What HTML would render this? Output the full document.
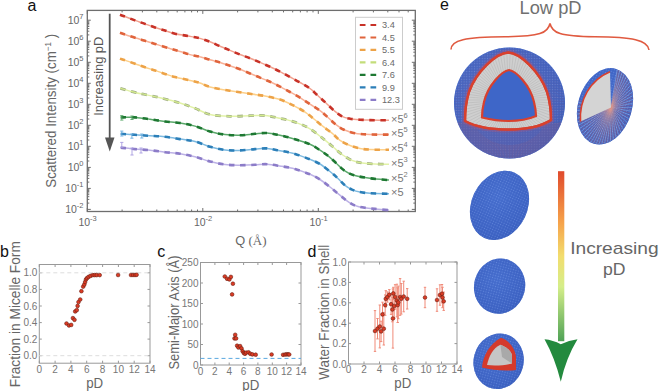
<!DOCTYPE html>
<html><head><meta charset="utf-8"><style>
html,body{margin:0;padding:0;background:#fff;width:660px;height:391px;overflow:hidden}
svg{display:block;font-family:"Liberation Sans", sans-serif}
</style></head><body>
<svg width="660" height="391" viewBox="0 0 660 391">
<rect width="660" height="391" fill="#fff"/>
<rect x="87.3" y="10.4" width="328.0" height="201.1" fill="none" stroke="#6e6e6e" stroke-width="1.3"/>
<path d="M87.3,209.4h3.5M415.3,209.4h-3.5M87.3,203.1h2M415.3,203.1h-2M87.3,199.4h2M415.3,199.4h-2M87.3,196.7h2M415.3,196.7h-2M87.3,194.7h2M415.3,194.7h-2M87.3,193.0h2M415.3,193.0h-2M87.3,191.6h2M415.3,191.6h-2M87.3,190.4h2M415.3,190.4h-2M87.3,189.3h2M415.3,189.3h-2M87.3,188.4h3.5M415.3,188.4h-3.5M87.3,182.1h2M415.3,182.1h-2M87.3,178.4h2M415.3,178.4h-2M87.3,175.7h2M415.3,175.7h-2M87.3,173.7h2M415.3,173.7h-2M87.3,172.0h2M415.3,172.0h-2M87.3,170.6h2M415.3,170.6h-2M87.3,169.4h2M415.3,169.4h-2M87.3,168.3h2M415.3,168.3h-2M87.3,167.4h3.5M415.3,167.4h-3.5M87.3,161.0h2M415.3,161.0h-2M87.3,157.3h2M415.3,157.3h-2M87.3,154.7h2M415.3,154.7h-2M87.3,152.7h2M415.3,152.7h-2M87.3,151.0h2M415.3,151.0h-2M87.3,149.6h2M415.3,149.6h-2M87.3,148.4h2M415.3,148.4h-2M87.3,147.3h2M415.3,147.3h-2M87.3,146.3h3.5M415.3,146.3h-3.5M87.3,140.0h2M415.3,140.0h-2M87.3,136.3h2M415.3,136.3h-2M87.3,133.7h2M415.3,133.7h-2M87.3,131.6h2M415.3,131.6h-2M87.3,130.0h2M415.3,130.0h-2M87.3,128.6h2M415.3,128.6h-2M87.3,127.4h2M415.3,127.4h-2M87.3,126.3h2M415.3,126.3h-2M87.3,125.3h3.5M415.3,125.3h-3.5M87.3,119.0h2M415.3,119.0h-2M87.3,115.3h2M415.3,115.3h-2M87.3,112.7h2M415.3,112.7h-2M87.3,110.6h2M415.3,110.6h-2M87.3,109.0h2M415.3,109.0h-2M87.3,107.6h2M415.3,107.6h-2M87.3,106.3h2M415.3,106.3h-2M87.3,105.3h2M415.3,105.3h-2M87.3,104.3h3.5M415.3,104.3h-3.5M87.3,98.0h2M415.3,98.0h-2M87.3,94.3h2M415.3,94.3h-2M87.3,91.6h2M415.3,91.6h-2M87.3,89.6h2M415.3,89.6h-2M87.3,87.9h2M415.3,87.9h-2M87.3,86.5h2M415.3,86.5h-2M87.3,85.3h2M415.3,85.3h-2M87.3,84.2h2M415.3,84.2h-2M87.3,83.3h3.5M415.3,83.3h-3.5M87.3,77.0h2M415.3,77.0h-2M87.3,73.3h2M415.3,73.3h-2M87.3,70.6h2M415.3,70.6h-2M87.3,68.6h2M415.3,68.6h-2M87.3,66.9h2M415.3,66.9h-2M87.3,65.5h2M415.3,65.5h-2M87.3,64.3h2M415.3,64.3h-2M87.3,63.2h2M415.3,63.2h-2M87.3,62.3h3.5M415.3,62.3h-3.5M87.3,55.9h2M415.3,55.9h-2M87.3,52.2h2M415.3,52.2h-2M87.3,49.6h2M415.3,49.6h-2M87.3,47.6h2M415.3,47.6h-2M87.3,45.9h2M415.3,45.9h-2M87.3,44.5h2M415.3,44.5h-2M87.3,43.3h2M415.3,43.3h-2M87.3,42.2h2M415.3,42.2h-2M87.3,41.2h3.5M415.3,41.2h-3.5M87.3,34.9h2M415.3,34.9h-2M87.3,31.2h2M415.3,31.2h-2M87.3,28.6h2M415.3,28.6h-2M87.3,26.5h2M415.3,26.5h-2M87.3,24.9h2M415.3,24.9h-2M87.3,23.5h2M415.3,23.5h-2M87.3,22.3h2M415.3,22.3h-2M87.3,21.2h2M415.3,21.2h-2M87.3,20.2h3.5M415.3,20.2h-3.5M87.3,211.5v-3.5M87.3,10.4v3.5M122.1,211.5v-2M122.1,10.4v2M142.4,211.5v-2M142.4,10.4v2M156.8,211.5v-2M156.8,10.4v2M168.0,211.5v-2M168.0,10.4v2M177.2,211.5v-2M177.2,10.4v2M184.9,211.5v-2M184.9,10.4v2M191.6,211.5v-2M191.6,10.4v2M197.5,211.5v-2M197.5,10.4v2M202.8,211.5v-3.5M202.8,10.4v3.5M237.6,211.5v-2M237.6,10.4v2M257.9,211.5v-2M257.9,10.4v2M272.3,211.5v-2M272.3,10.4v2M283.5,211.5v-2M283.5,10.4v2M292.7,211.5v-2M292.7,10.4v2M300.4,211.5v-2M300.4,10.4v2M307.1,211.5v-2M307.1,10.4v2M313.0,211.5v-2M313.0,10.4v2M318.3,211.5v-3.5M318.3,10.4v3.5M353.1,211.5v-2M353.1,10.4v2M373.4,211.5v-2M373.4,10.4v2M387.8,211.5v-2M387.8,10.4v2M399.0,211.5v-2M399.0,10.4v2M408.2,211.5v-2M408.2,10.4v2" stroke="#6e6e6e" stroke-width="1" fill="none"/>
<text x="83.5" y="213.1" font-size="10.5" fill="#666" text-anchor="end">10<tspan dy="-5.3" font-size="7.5">-2</tspan></text>
<text x="83.5" y="192.1" font-size="10.5" fill="#666" text-anchor="end">10<tspan dy="-5.3" font-size="7.5">-1</tspan></text>
<text x="83.5" y="171.1" font-size="10.5" fill="#666" text-anchor="end">10<tspan dy="-5.3" font-size="7.5">0</tspan></text>
<text x="83.5" y="150.0" font-size="10.5" fill="#666" text-anchor="end">10<tspan dy="-5.3" font-size="7.5">1</tspan></text>
<text x="83.5" y="129.0" font-size="10.5" fill="#666" text-anchor="end">10<tspan dy="-5.3" font-size="7.5">2</tspan></text>
<text x="83.5" y="108.0" font-size="10.5" fill="#666" text-anchor="end">10<tspan dy="-5.3" font-size="7.5">3</tspan></text>
<text x="83.5" y="87.0" font-size="10.5" fill="#666" text-anchor="end">10<tspan dy="-5.3" font-size="7.5">4</tspan></text>
<text x="83.5" y="66.0" font-size="10.5" fill="#666" text-anchor="end">10<tspan dy="-5.3" font-size="7.5">5</tspan></text>
<text x="83.5" y="44.9" font-size="10.5" fill="#666" text-anchor="end">10<tspan dy="-5.3" font-size="7.5">6</tspan></text>
<text x="83.5" y="23.9" font-size="10.5" fill="#666" text-anchor="end">10<tspan dy="-5.3" font-size="7.5">7</tspan></text>
<text x="87.6" y="225.8" font-size="10.5" fill="#666" text-anchor="middle">10<tspan dy="-5.3" font-size="7.5">-3</tspan></text>
<text x="203.1" y="225.8" font-size="10.5" fill="#666" text-anchor="middle">10<tspan dy="-5.3" font-size="7.5">-2</tspan></text>
<text x="318.6" y="225.8" font-size="10.5" fill="#666" text-anchor="middle">10<tspan dy="-5.3" font-size="7.5">-1</tspan></text>
<text transform="translate(55.8,110.8) rotate(-90)" font-size="15" fill="#666" text-anchor="middle" textLength="154" lengthAdjust="spacingAndGlyphs">Scattered Intensity (cm<tspan dy="-5" font-size="9">−1</tspan><tspan dy="5"> )</tspan></text>
<text x="235.3" y="245.3" font-family="Liberation Serif, serif" font-size="13" fill="#666"><tspan font-family="Liberation Sans, sans-serif" font-size="12.8">Q</tspan> (Å)</text>
<text transform="translate(103.3,76.3) rotate(-90)" font-size="12.3" fill="#555" text-anchor="middle" textLength="79" lengthAdjust="spacingAndGlyphs">Increasing pD</text>
<line x1="109.7" y1="13.7" x2="109.7" y2="140" stroke="#555" stroke-width="1.8"/>
<path d="M105,137.5 L114.5,137.5 L109.75,151.5 Z" fill="#555"/>
<path d="M120.0,14.7 C122.5,15.6 130.8,18.9 135.0,20.4 C139.2,21.9 141.7,22.7 145.0,23.9 C148.3,25.1 151.7,26.4 155.0,27.5 C158.3,28.6 161.7,29.6 165.0,30.6 C168.3,31.6 171.2,32.8 175.0,33.7 C178.8,34.6 183.8,35.2 188.0,36.0 C192.2,36.8 196.3,37.4 200.0,38.4 C203.7,39.4 206.7,40.5 210.0,41.8 C213.3,43.1 216.7,44.8 220.0,46.2 C223.3,47.6 226.7,49.0 230.0,50.4 C233.3,51.8 236.7,53.2 240.0,54.5 C243.3,55.8 246.7,57.0 250.0,58.3 C253.3,59.6 256.7,61.0 260.0,62.4 C263.3,63.8 266.7,65.3 270.0,66.8 C273.3,68.3 276.7,69.9 280.0,71.6 C283.3,73.3 286.7,75.2 290.0,77.0 C293.3,78.8 296.7,80.6 300.0,82.5 C303.3,84.4 307.0,86.3 310.0,88.5 C313.0,90.7 315.3,93.4 318.0,95.8 C320.7,98.2 323.3,100.5 326.0,103.0 C328.7,105.5 331.3,108.3 334.0,110.5 C336.7,112.7 339.3,114.9 342.0,116.3 C344.7,117.7 347.0,118.1 350.0,118.7 C353.0,119.3 356.7,119.5 360.0,119.7 C363.3,119.9 365.2,120.0 370.0,120.1 C374.8,120.2 385.8,120.3 389.0,120.3" fill="none" stroke="#f2a08e" stroke-width="1.5"/>
<path d="M120.0,14.7 C122.5,15.6 130.8,18.9 135.0,20.4 C139.2,21.9 141.7,22.7 145.0,23.9 C148.3,25.1 151.7,26.4 155.0,27.5 C158.3,28.6 161.7,29.6 165.0,30.6 C168.3,31.6 171.2,32.8 175.0,33.7 C178.8,34.6 183.8,35.2 188.0,36.0 C192.2,36.8 196.3,37.4 200.0,38.4 C203.7,39.4 206.7,40.5 210.0,41.8 C213.3,43.1 216.7,44.8 220.0,46.2 C223.3,47.6 226.7,49.0 230.0,50.4 C233.3,51.8 236.7,53.2 240.0,54.5 C243.3,55.8 246.7,57.0 250.0,58.3 C253.3,59.6 256.7,61.0 260.0,62.4 C263.3,63.8 266.7,65.3 270.0,66.8 C273.3,68.3 276.7,69.9 280.0,71.6 C283.3,73.3 286.7,75.2 290.0,77.0 C293.3,78.8 296.7,80.6 300.0,82.5 C303.3,84.4 307.0,86.3 310.0,88.5 C313.0,90.7 315.3,93.4 318.0,95.8 C320.7,98.2 323.3,100.5 326.0,103.0 C328.7,105.5 331.3,108.3 334.0,110.5 C336.7,112.7 339.3,114.9 342.0,116.3 C344.7,117.7 347.0,118.1 350.0,118.7 C353.0,119.3 356.7,119.5 360.0,119.7 C363.3,119.9 365.2,120.0 370.0,120.1 C374.8,120.2 385.8,120.3 389.0,120.3" fill="none" stroke="#c83228" stroke-width="2.6" stroke-dasharray="5.4 5.6"/>
<path d="M120.0,32.8 C122.5,33.6 130.8,36.5 135.0,37.8 C139.2,39.1 141.7,39.8 145.0,40.8 C148.3,41.8 151.0,42.6 155.0,43.9 C159.0,45.1 164.8,47.0 169.0,48.3 C173.2,49.6 176.5,50.5 180.0,51.5 C183.5,52.5 186.7,53.7 190.0,54.6 C193.3,55.5 196.7,55.9 200.0,56.8 C203.3,57.6 206.7,58.8 210.0,59.7 C213.3,60.7 216.7,61.5 220.0,62.5 C223.3,63.5 226.7,64.7 230.0,65.8 C233.3,66.9 236.7,68.0 240.0,69.3 C243.3,70.6 246.7,72.1 250.0,73.5 C253.3,74.9 256.7,76.2 260.0,77.6 C263.3,79.0 266.7,80.3 270.0,81.8 C273.3,83.3 276.7,84.9 280.0,86.6 C283.3,88.3 286.7,90.2 290.0,92.0 C293.3,93.8 296.7,95.6 300.0,97.6 C303.3,99.6 306.7,102.0 310.0,104.2 C313.3,106.4 317.0,108.4 320.0,110.6 C323.0,112.8 325.3,115.2 328.0,117.5 C330.7,119.8 333.3,122.7 336.0,124.7 C338.7,126.8 340.8,128.4 344.0,129.8 C347.2,131.2 350.7,132.5 355.0,133.3 C359.3,134.1 364.3,134.3 370.0,134.5 C375.7,134.7 385.8,134.6 389.0,134.6" fill="none" stroke="#f8b096" stroke-width="1.5"/>
<path d="M120.0,32.8 C122.5,33.6 130.8,36.5 135.0,37.8 C139.2,39.1 141.7,39.8 145.0,40.8 C148.3,41.8 151.0,42.6 155.0,43.9 C159.0,45.1 164.8,47.0 169.0,48.3 C173.2,49.6 176.5,50.5 180.0,51.5 C183.5,52.5 186.7,53.7 190.0,54.6 C193.3,55.5 196.7,55.9 200.0,56.8 C203.3,57.6 206.7,58.8 210.0,59.7 C213.3,60.7 216.7,61.5 220.0,62.5 C223.3,63.5 226.7,64.7 230.0,65.8 C233.3,66.9 236.7,68.0 240.0,69.3 C243.3,70.6 246.7,72.1 250.0,73.5 C253.3,74.9 256.7,76.2 260.0,77.6 C263.3,79.0 266.7,80.3 270.0,81.8 C273.3,83.3 276.7,84.9 280.0,86.6 C283.3,88.3 286.7,90.2 290.0,92.0 C293.3,93.8 296.7,95.6 300.0,97.6 C303.3,99.6 306.7,102.0 310.0,104.2 C313.3,106.4 317.0,108.4 320.0,110.6 C323.0,112.8 325.3,115.2 328.0,117.5 C330.7,119.8 333.3,122.7 336.0,124.7 C338.7,126.8 340.8,128.4 344.0,129.8 C347.2,131.2 350.7,132.5 355.0,133.3 C359.3,134.1 364.3,134.3 370.0,134.5 C375.7,134.7 385.8,134.6 389.0,134.6" fill="none" stroke="#e0643c" stroke-width="2.6" stroke-dasharray="5.4 5.6"/>
<path d="M120.0,58.6 C122.5,59.5 130.8,62.2 135.0,63.7 C139.2,65.2 141.7,66.2 145.0,67.3 C148.3,68.4 151.7,69.3 155.0,70.4 C158.3,71.5 161.7,72.8 165.0,73.9 C168.3,75.0 170.8,75.9 175.0,77.0 C179.2,78.1 185.8,79.5 190.0,80.5 C194.2,81.5 196.7,81.9 200.0,83.0 C203.3,84.1 205.0,85.6 210.0,86.9 C215.0,88.2 223.3,89.6 230.0,90.7 C236.7,91.8 244.2,92.9 250.0,93.8 C255.8,94.7 260.0,95.0 265.0,96.0 C270.0,97.0 275.8,98.2 280.0,99.5 C284.2,100.8 286.7,102.2 290.0,103.8 C293.3,105.4 297.2,107.4 300.0,109.0 C302.8,110.6 304.7,111.8 307.0,113.5 C309.3,115.2 311.5,117.0 314.0,119.0 C316.5,121.0 319.0,123.3 322.0,125.7 C325.0,128.1 329.0,130.8 332.0,133.2 C335.0,135.6 337.0,138.3 340.0,140.4 C343.0,142.5 346.7,144.2 350.0,145.5 C353.3,146.8 356.7,147.8 360.0,148.5 C363.3,149.2 365.2,149.4 370.0,149.6 C374.8,149.8 385.8,149.7 389.0,149.7" fill="none" stroke="#fdd08a" stroke-width="1.5"/>
<path d="M120.0,58.6 C122.5,59.5 130.8,62.2 135.0,63.7 C139.2,65.2 141.7,66.2 145.0,67.3 C148.3,68.4 151.7,69.3 155.0,70.4 C158.3,71.5 161.7,72.8 165.0,73.9 C168.3,75.0 170.8,75.9 175.0,77.0 C179.2,78.1 185.8,79.5 190.0,80.5 C194.2,81.5 196.7,81.9 200.0,83.0 C203.3,84.1 205.0,85.6 210.0,86.9 C215.0,88.2 223.3,89.6 230.0,90.7 C236.7,91.8 244.2,92.9 250.0,93.8 C255.8,94.7 260.0,95.0 265.0,96.0 C270.0,97.0 275.8,98.2 280.0,99.5 C284.2,100.8 286.7,102.2 290.0,103.8 C293.3,105.4 297.2,107.4 300.0,109.0 C302.8,110.6 304.7,111.8 307.0,113.5 C309.3,115.2 311.5,117.0 314.0,119.0 C316.5,121.0 319.0,123.3 322.0,125.7 C325.0,128.1 329.0,130.8 332.0,133.2 C335.0,135.6 337.0,138.3 340.0,140.4 C343.0,142.5 346.7,144.2 350.0,145.5 C353.3,146.8 356.7,147.8 360.0,148.5 C363.3,149.2 365.2,149.4 370.0,149.6 C374.8,149.8 385.8,149.7 389.0,149.7" fill="none" stroke="#eda348" stroke-width="2.6" stroke-dasharray="5.4 5.6"/>
<path d="M120.4,88.3 C122.8,89.0 130.9,91.4 135.0,92.4 C139.1,93.4 140.8,93.6 145.0,94.5 C149.2,95.4 154.2,96.4 160.0,97.8 C165.8,99.2 174.2,101.2 180.0,103.0 C185.8,104.8 190.0,106.4 195.0,108.3 C200.0,110.2 204.2,113.2 210.0,114.5 C215.8,115.8 223.3,116.1 230.0,116.3 C236.7,116.5 244.2,115.8 250.0,115.7 C255.8,115.6 260.0,115.2 265.0,115.6 C270.0,116.0 275.0,117.2 280.0,118.3 C285.0,119.4 290.0,120.3 295.0,122.1 C300.0,123.8 305.0,125.8 310.0,128.8 C315.0,131.8 321.0,137.0 325.0,140.2 C329.0,143.4 331.2,145.4 334.0,147.8 C336.8,150.2 339.0,152.4 342.0,154.5 C345.0,156.6 348.7,159.0 352.0,160.4 C355.3,161.8 358.2,162.3 362.0,162.9 C365.8,163.5 370.5,163.7 375.0,163.9 C379.5,164.1 386.7,164.2 389.0,164.3" fill="none" stroke="#e2f2a8" stroke-width="1.5"/>
<path d="M120.4,88.3 C122.8,89.0 130.9,91.4 135.0,92.4 C139.1,93.4 140.8,93.6 145.0,94.5 C149.2,95.4 154.2,96.4 160.0,97.8 C165.8,99.2 174.2,101.2 180.0,103.0 C185.8,104.8 190.0,106.4 195.0,108.3 C200.0,110.2 204.2,113.2 210.0,114.5 C215.8,115.8 223.3,116.1 230.0,116.3 C236.7,116.5 244.2,115.8 250.0,115.7 C255.8,115.6 260.0,115.2 265.0,115.6 C270.0,116.0 275.0,117.2 280.0,118.3 C285.0,119.4 290.0,120.3 295.0,122.1 C300.0,123.8 305.0,125.8 310.0,128.8 C315.0,131.8 321.0,137.0 325.0,140.2 C329.0,143.4 331.2,145.4 334.0,147.8 C336.8,150.2 339.0,152.4 342.0,154.5 C345.0,156.6 348.7,159.0 352.0,160.4 C355.3,161.8 358.2,162.3 362.0,162.9 C365.8,163.5 370.5,163.7 375.0,163.9 C379.5,164.1 386.7,164.2 389.0,164.3" fill="none" stroke="#a3b088" stroke-width="2.8" stroke-dasharray="5.4 5.6"/>
<path d="M120.4,88.3 C122.8,89.0 130.9,91.4 135.0,92.4 C139.1,93.4 140.8,93.6 145.0,94.5 C149.2,95.4 154.2,96.4 160.0,97.8 C165.8,99.2 174.2,101.2 180.0,103.0 C185.8,104.8 190.0,106.4 195.0,108.3 C200.0,110.2 204.2,113.2 210.0,114.5 C215.8,115.8 223.3,116.1 230.0,116.3 C236.7,116.5 244.2,115.8 250.0,115.7 C255.8,115.6 260.0,115.2 265.0,115.6 C270.0,116.0 275.0,117.2 280.0,118.3 C285.0,119.4 290.0,120.3 295.0,122.1 C300.0,123.8 305.0,125.8 310.0,128.8 C315.0,131.8 321.0,137.0 325.0,140.2 C329.0,143.4 331.2,145.4 334.0,147.8 C336.8,150.2 339.0,152.4 342.0,154.5 C345.0,156.6 348.7,159.0 352.0,160.4 C355.3,161.8 358.2,162.3 362.0,162.9 C365.8,163.5 370.5,163.7 375.0,163.9 C379.5,164.1 386.7,164.2 389.0,164.3" fill="none" stroke="#d4ec8c" stroke-width="1.2" stroke-dasharray="5.4 5.6"/>
<path d="M120.7,117.4 C123.1,117.4 130.1,117.1 135.0,117.4 C139.9,117.7 145.0,118.5 150.0,119.2 C155.0,119.9 160.0,120.9 165.0,121.5 C170.0,122.1 175.0,122.2 180.0,123.0 C185.0,123.8 190.0,124.7 195.0,126.1 C200.0,127.5 205.0,130.1 210.0,131.5 C215.0,132.9 220.0,134.0 225.0,134.6 C230.0,135.2 235.0,135.4 240.0,135.3 C245.0,135.2 250.5,134.2 255.0,133.8 C259.5,133.4 262.8,132.8 267.0,133.0 C271.2,133.2 275.3,134.3 280.0,135.3 C284.7,136.3 290.0,137.7 295.0,139.2 C300.0,140.7 305.8,142.5 310.0,144.3 C314.2,146.1 317.0,148.3 320.0,150.2 C323.0,152.1 325.3,153.7 328.0,155.8 C330.7,157.9 333.3,160.6 336.0,163.0 C338.7,165.4 341.0,168.2 344.0,170.3 C347.0,172.4 349.7,174.0 354.0,175.3 C358.3,176.6 364.2,177.5 370.0,178.3 C375.8,179.1 385.8,179.8 389.0,180.1" fill="none" stroke="#5aa86a" stroke-width="1.5"/>
<path d="M120.7,117.4 C123.1,117.4 130.1,117.1 135.0,117.4 C139.9,117.7 145.0,118.5 150.0,119.2 C155.0,119.9 160.0,120.9 165.0,121.5 C170.0,122.1 175.0,122.2 180.0,123.0 C185.0,123.8 190.0,124.7 195.0,126.1 C200.0,127.5 205.0,130.1 210.0,131.5 C215.0,132.9 220.0,134.0 225.0,134.6 C230.0,135.2 235.0,135.4 240.0,135.3 C245.0,135.2 250.5,134.2 255.0,133.8 C259.5,133.4 262.8,132.8 267.0,133.0 C271.2,133.2 275.3,134.3 280.0,135.3 C284.7,136.3 290.0,137.7 295.0,139.2 C300.0,140.7 305.8,142.5 310.0,144.3 C314.2,146.1 317.0,148.3 320.0,150.2 C323.0,152.1 325.3,153.7 328.0,155.8 C330.7,157.9 333.3,160.6 336.0,163.0 C338.7,165.4 341.0,168.2 344.0,170.3 C347.0,172.4 349.7,174.0 354.0,175.3 C358.3,176.6 364.2,177.5 370.0,178.3 C375.8,179.1 385.8,179.8 389.0,180.1" fill="none" stroke="#1e7832" stroke-width="2.6" stroke-dasharray="5.4 5.6"/>
<path d="M120.7,133.8 C123.1,134.0 130.1,134.5 135.0,134.8 C139.9,135.1 145.0,135.5 150.0,135.8 C155.0,136.1 160.0,136.2 165.0,136.8 C170.0,137.4 175.0,138.3 180.0,139.1 C185.0,139.9 190.0,140.1 195.0,141.4 C200.0,142.7 205.0,145.4 210.0,146.8 C215.0,148.2 220.0,149.3 225.0,149.9 C230.0,150.5 235.0,150.5 240.0,150.4 C245.0,150.3 250.5,149.4 255.0,149.1 C259.5,148.8 262.8,148.1 267.0,148.4 C271.2,148.7 275.3,149.8 280.0,150.7 C284.7,151.6 290.0,152.4 295.0,153.9 C300.0,155.4 305.8,157.7 310.0,159.4 C314.2,161.1 316.7,162.0 320.0,164.0 C323.3,166.0 327.0,169.1 330.0,171.5 C333.0,173.9 335.5,176.2 338.0,178.5 C340.5,180.8 342.7,183.5 345.0,185.3 C347.3,187.2 349.5,188.5 352.0,189.6 C354.5,190.7 357.0,191.5 360.0,192.1 C363.0,192.7 365.2,192.9 370.0,193.2 C374.8,193.5 385.8,193.7 389.0,193.8" fill="none" stroke="#7cb9e0" stroke-width="1.5"/>
<path d="M120.7,133.8 C123.1,134.0 130.1,134.5 135.0,134.8 C139.9,135.1 145.0,135.5 150.0,135.8 C155.0,136.1 160.0,136.2 165.0,136.8 C170.0,137.4 175.0,138.3 180.0,139.1 C185.0,139.9 190.0,140.1 195.0,141.4 C200.0,142.7 205.0,145.4 210.0,146.8 C215.0,148.2 220.0,149.3 225.0,149.9 C230.0,150.5 235.0,150.5 240.0,150.4 C245.0,150.3 250.5,149.4 255.0,149.1 C259.5,148.8 262.8,148.1 267.0,148.4 C271.2,148.7 275.3,149.8 280.0,150.7 C284.7,151.6 290.0,152.4 295.0,153.9 C300.0,155.4 305.8,157.7 310.0,159.4 C314.2,161.1 316.7,162.0 320.0,164.0 C323.3,166.0 327.0,169.1 330.0,171.5 C333.0,173.9 335.5,176.2 338.0,178.5 C340.5,180.8 342.7,183.5 345.0,185.3 C347.3,187.2 349.5,188.5 352.0,189.6 C354.5,190.7 357.0,191.5 360.0,192.1 C363.0,192.7 365.2,192.9 370.0,193.2 C374.8,193.5 385.8,193.7 389.0,193.8" fill="none" stroke="#2c7fb8" stroke-width="2.6" stroke-dasharray="5.4 5.6"/>
<path d="M120.7,147.6 C123.1,147.8 130.1,148.7 135.0,149.1 C139.9,149.5 145.0,149.7 150.0,150.2 C155.0,150.7 160.0,151.6 165.0,152.2 C170.0,152.8 175.0,152.9 180.0,153.7 C185.0,154.5 190.0,155.5 195.0,156.8 C200.0,158.1 205.0,160.1 210.0,161.4 C215.0,162.7 220.0,163.9 225.0,164.5 C230.0,165.1 235.0,165.1 240.0,165.2 C245.0,165.2 250.5,165.0 255.0,164.8 C259.5,164.6 262.8,164.0 267.0,164.2 C271.2,164.4 275.3,165.2 280.0,166.0 C284.7,166.8 290.0,167.6 295.0,169.0 C300.0,170.4 305.8,172.6 310.0,174.3 C314.2,176.1 316.7,177.4 320.0,179.5 C323.3,181.6 327.0,184.6 330.0,187.0 C333.0,189.4 335.3,191.5 338.0,193.7 C340.7,195.9 343.7,198.3 346.0,200.1 C348.3,201.8 350.0,203.1 352.0,204.2 C354.0,205.3 355.8,205.9 358.0,206.5 C360.2,207.1 362.2,207.4 365.0,207.8 C367.8,208.2 371.0,208.5 375.0,208.9 C379.0,209.3 386.7,210.0 389.0,210.2" fill="none" stroke="#bdb2e6" stroke-width="1.5"/>
<path d="M120.7,147.6 C123.1,147.8 130.1,148.7 135.0,149.1 C139.9,149.5 145.0,149.7 150.0,150.2 C155.0,150.7 160.0,151.6 165.0,152.2 C170.0,152.8 175.0,152.9 180.0,153.7 C185.0,154.5 190.0,155.5 195.0,156.8 C200.0,158.1 205.0,160.1 210.0,161.4 C215.0,162.7 220.0,163.9 225.0,164.5 C230.0,165.1 235.0,165.1 240.0,165.2 C245.0,165.2 250.5,165.0 255.0,164.8 C259.5,164.6 262.8,164.0 267.0,164.2 C271.2,164.4 275.3,165.2 280.0,166.0 C284.7,166.8 290.0,167.6 295.0,169.0 C300.0,170.4 305.8,172.6 310.0,174.3 C314.2,176.1 316.7,177.4 320.0,179.5 C323.3,181.6 327.0,184.6 330.0,187.0 C333.0,189.4 335.3,191.5 338.0,193.7 C340.7,195.9 343.7,198.3 346.0,200.1 C348.3,201.8 350.0,203.1 352.0,204.2 C354.0,205.3 355.8,205.9 358.0,206.5 C360.2,207.1 362.2,207.4 365.0,207.8 C367.8,208.2 371.0,208.5 375.0,208.9 C379.0,209.3 386.7,210.0 389.0,210.2" fill="none" stroke="#8c7cc8" stroke-width="2.6" stroke-dasharray="5.4 5.6"/>
<path d="M121.8,115.6V120.1M120.2,115.6h3.2M120.2,120.1h3.2M132,116V119.5M130.4,116h3.2M130.4,119.5h3.2" stroke="#5aa86a" stroke-width="0.9" fill="none"/>
<path d="M121.8,131.1V136M120.2,131.1h3.2M120.2,136h3.2M131.9,134V138.2M130.3,134h3.2M130.3,138.2h3.2M141.8,134V138M140.20000000000002,134h3.2M140.20000000000002,138h3.2" stroke="#6aaee0" stroke-width="0.9" fill="none"/>
<path d="M121.8,142.4V147.3M120.2,142.4h3.2M120.2,147.3h3.2M132,148V155M130.4,148h3.2M130.4,155h3.2M141,148V153M139.4,148h3.2M139.4,153h3.2" stroke="#a89ce0" stroke-width="0.9" fill="none"/>
<text x="391" y="123" font-size="11" fill="#777">×5<tspan dy="-5" font-size="7.5">6</tspan></text>
<text x="391" y="137" font-size="11" fill="#777">×5<tspan dy="-5" font-size="7.5">5</tspan></text>
<text x="391" y="151.6" font-size="11" fill="#777">×5<tspan dy="-5" font-size="7.5">4</tspan></text>
<text x="391" y="166.7" font-size="11" fill="#777">×5<tspan dy="-5" font-size="7.5">3</tspan></text>
<text x="391" y="181.5" font-size="11" fill="#777">×5<tspan dy="-5" font-size="7.5">2</tspan></text>
<text x="391" y="196" font-size="11" fill="#777">×5<tspan dy="-5" font-size="7.5"></tspan></text>
<rect x="355.5" y="17.3" width="47" height="92" fill="#fff" stroke="#ccc" stroke-width="1"/>
<path d="M359.8,25.0h5.7M370.5,25.0h5.7" stroke="#c83228" stroke-width="2.2"/>
<text x="382" y="28.3" font-size="9.2" fill="#6a6a6a">3.4</text>
<path d="M359.8,37.5h5.7M370.5,37.5h5.7" stroke="#e0643c" stroke-width="2.2"/>
<text x="382" y="40.8" font-size="9.2" fill="#6a6a6a">4.5</text>
<path d="M359.8,49.9h5.7M370.5,49.9h5.7" stroke="#eda348" stroke-width="2.2"/>
<text x="382" y="53.2" font-size="9.2" fill="#6a6a6a">5.5</text>
<path d="M359.8,62.4h5.7M370.5,62.4h5.7" stroke="#c3dd7a" stroke-width="2.2"/>
<text x="382" y="65.7" font-size="9.2" fill="#6a6a6a">6.4</text>
<path d="M359.8,74.9h5.7M370.5,74.9h5.7" stroke="#1e7832" stroke-width="2.2"/>
<text x="382" y="78.2" font-size="9.2" fill="#6a6a6a">7.6</text>
<path d="M359.8,87.3h5.7M370.5,87.3h5.7" stroke="#2c7fb8" stroke-width="2.2"/>
<text x="382" y="90.6" font-size="9.2" fill="#6a6a6a">9.9</text>
<path d="M359.8,99.8h5.7M370.5,99.8h5.7" stroke="#8c7cc8" stroke-width="2.2"/>
<text x="382" y="103.1" font-size="9.2" fill="#6a6a6a">12.3</text>
<text x="27.5" y="10.6" font-size="16" fill="#111">a</text>
<text x="0" y="257.4" font-size="16" fill="#111">b</text>
<text x="157.3" y="257" font-size="16" fill="#111">c</text>
<text x="307.5" y="257" font-size="16" fill="#111">d</text>
<text x="440" y="10.4" font-size="16" fill="#111">e</text>
<rect x="39.3" y="264.5" width="110.7" height="98.69999999999999" fill="none" stroke="#999" stroke-width="1"/>
<path d="M39.3,363.2v-2.5M39.3,264.5v2.5M55.1,363.2v-2.5M55.1,264.5v2.5M70.9,363.2v-2.5M70.9,264.5v2.5M86.7,363.2v-2.5M86.7,264.5v2.5M102.6,363.2v-2.5M102.6,264.5v2.5M118.4,363.2v-2.5M118.4,264.5v2.5M134.2,363.2v-2.5M134.2,264.5v2.5M150.0,363.2v-2.5M150.0,264.5v2.5M39.3,355.7h2.5M150,355.7h-2.5M39.3,339.1h2.5M150,339.1h-2.5M39.3,322.6h2.5M150,322.6h-2.5M39.3,306.0h2.5M150,306.0h-2.5M39.3,289.4h2.5M150,289.4h-2.5M39.3,272.8h2.5M150,272.8h-2.5" stroke="#999" stroke-width="1"/>
<text x="39.3" y="372.5" font-size="10" fill="#777" text-anchor="middle">0</text>
<text x="55.1" y="372.5" font-size="10" fill="#777" text-anchor="middle">2</text>
<text x="70.9" y="372.5" font-size="10" fill="#777" text-anchor="middle">4</text>
<text x="86.7" y="372.5" font-size="10" fill="#777" text-anchor="middle">6</text>
<text x="102.6" y="372.5" font-size="10" fill="#777" text-anchor="middle">8</text>
<text x="118.4" y="372.5" font-size="10" fill="#777" text-anchor="middle">10</text>
<text x="134.2" y="372.5" font-size="10" fill="#777" text-anchor="middle">12</text>
<text x="150.0" y="372.5" font-size="10" fill="#777" text-anchor="middle">14</text>
<text x="37.3" y="359.3" font-size="10" fill="#777" text-anchor="end">0.0</text>
<text x="37.3" y="342.7" font-size="10" fill="#777" text-anchor="end">0.2</text>
<text x="37.3" y="326.2" font-size="10" fill="#777" text-anchor="end">0.4</text>
<text x="37.3" y="309.6" font-size="10" fill="#777" text-anchor="end">0.6</text>
<text x="37.3" y="293.0" font-size="10" fill="#777" text-anchor="end">0.8</text>
<text x="37.3" y="276.4" font-size="10" fill="#777" text-anchor="end">1.0</text>
<text x="94.7" y="387.5" font-size="15" fill="#666" text-anchor="middle" textLength="17" lengthAdjust="spacingAndGlyphs">pD</text>
<text transform="translate(19.6,314.2) rotate(-90)" font-size="14.5" fill="#666" text-anchor="middle" textLength="146" lengthAdjust="spacingAndGlyphs">Fraction in Micelle Form</text>
<line x1="39.3" x2="150" y1="355.7" y2="355.7" stroke="#ddd" stroke-width="1" stroke-dasharray="4 3"/>
<line x1="39.3" x2="150" y1="272.8" y2="272.8" stroke="#ddd" stroke-width="1" stroke-dasharray="4 3"/>
<circle cx="66.5" cy="323.5" r="1.85" fill="#dc3b24" stroke="#6a2014" stroke-width="0.6"/>
<circle cx="69.0" cy="325.5" r="1.85" fill="#dc3b24" stroke="#6a2014" stroke-width="0.6"/>
<circle cx="71.2" cy="324.9" r="1.85" fill="#dc3b24" stroke="#6a2014" stroke-width="0.6"/>
<circle cx="72.9" cy="318.1" r="1.85" fill="#dc3b24" stroke="#6a2014" stroke-width="0.6"/>
<circle cx="74.5" cy="319.8" r="1.85" fill="#dc3b24" stroke="#6a2014" stroke-width="0.6"/>
<circle cx="75.2" cy="311.4" r="1.85" fill="#dc3b24" stroke="#6a2014" stroke-width="0.6"/>
<circle cx="76.8" cy="310.1" r="1.85" fill="#dc3b24" stroke="#6a2014" stroke-width="0.6"/>
<circle cx="77.6" cy="305.9" r="1.85" fill="#dc3b24" stroke="#6a2014" stroke-width="0.6"/>
<circle cx="78.5" cy="302.0" r="1.85" fill="#dc3b24" stroke="#6a2014" stroke-width="0.6"/>
<circle cx="80.2" cy="299.5" r="1.85" fill="#dc3b24" stroke="#6a2014" stroke-width="0.6"/>
<circle cx="81.4" cy="291.2" r="1.85" fill="#dc3b24" stroke="#6a2014" stroke-width="0.6"/>
<circle cx="83.2" cy="286.6" r="1.85" fill="#dc3b24" stroke="#6a2014" stroke-width="0.6"/>
<circle cx="84.3" cy="284.5" r="1.85" fill="#dc3b24" stroke="#6a2014" stroke-width="0.6"/>
<circle cx="85.1" cy="282.0" r="1.85" fill="#dc3b24" stroke="#6a2014" stroke-width="0.6"/>
<circle cx="86.0" cy="279.4" r="1.85" fill="#dc3b24" stroke="#6a2014" stroke-width="0.6"/>
<circle cx="87.0" cy="278.1" r="1.85" fill="#dc3b24" stroke="#6a2014" stroke-width="0.6"/>
<circle cx="88.5" cy="276.9" r="1.85" fill="#dc3b24" stroke="#6a2014" stroke-width="0.6"/>
<circle cx="90.5" cy="275.9" r="1.85" fill="#dc3b24" stroke="#6a2014" stroke-width="0.6"/>
<circle cx="92.8" cy="275.1" r="1.85" fill="#dc3b24" stroke="#6a2014" stroke-width="0.6"/>
<circle cx="94.7" cy="275.1" r="1.85" fill="#dc3b24" stroke="#6a2014" stroke-width="0.6"/>
<circle cx="96.7" cy="275.1" r="1.85" fill="#dc3b24" stroke="#6a2014" stroke-width="0.6"/>
<circle cx="99.7" cy="275.1" r="1.85" fill="#dc3b24" stroke="#6a2014" stroke-width="0.6"/>
<circle cx="118.1" cy="275.0" r="1.85" fill="#dc3b24" stroke="#6a2014" stroke-width="0.6"/>
<circle cx="131.0" cy="275.0" r="1.85" fill="#dc3b24" stroke="#6a2014" stroke-width="0.6"/>
<circle cx="133.0" cy="275.0" r="1.85" fill="#dc3b24" stroke="#6a2014" stroke-width="0.6"/>
<circle cx="135.0" cy="275.0" r="1.85" fill="#dc3b24" stroke="#6a2014" stroke-width="0.6"/>
<circle cx="136.6" cy="274.8" r="1.85" fill="#dc3b24" stroke="#6a2014" stroke-width="0.6"/>
<rect x="200.5" y="262.5" width="100.5" height="102.5" fill="none" stroke="#999" stroke-width="1"/>
<path d="M200.5,365v-2.5M200.5,262.5v2.5M214.9,365v-2.5M214.9,262.5v2.5M229.2,365v-2.5M229.2,262.5v2.5M243.6,365v-2.5M243.6,262.5v2.5M257.9,365v-2.5M257.9,262.5v2.5M272.3,365v-2.5M272.3,262.5v2.5M286.6,365v-2.5M286.6,262.5v2.5M301.0,365v-2.5M301.0,262.5v2.5M200.5,365.0h2.5M301,365.0h-2.5M200.5,344.5h2.5M301,344.5h-2.5M200.5,324.0h2.5M301,324.0h-2.5M200.5,303.5h2.5M301,303.5h-2.5M200.5,283.0h2.5M301,283.0h-2.5M200.5,262.5h2.5M301,262.5h-2.5" stroke="#999" stroke-width="1"/>
<text x="200.5" y="374.5" font-size="10" fill="#777" text-anchor="middle">0</text>
<text x="214.9" y="374.5" font-size="10" fill="#777" text-anchor="middle">2</text>
<text x="229.2" y="374.5" font-size="10" fill="#777" text-anchor="middle">4</text>
<text x="243.6" y="374.5" font-size="10" fill="#777" text-anchor="middle">6</text>
<text x="257.9" y="374.5" font-size="10" fill="#777" text-anchor="middle">8</text>
<text x="272.3" y="374.5" font-size="10" fill="#777" text-anchor="middle">10</text>
<text x="286.6" y="374.5" font-size="10" fill="#777" text-anchor="middle">12</text>
<text x="301.0" y="374.5" font-size="10" fill="#777" text-anchor="middle">14</text>
<text x="198.5" y="368.6" font-size="10" fill="#777" text-anchor="end">0</text>
<text x="198.5" y="348.1" font-size="10" fill="#777" text-anchor="end">50</text>
<text x="198.5" y="327.6" font-size="10" fill="#777" text-anchor="end">100</text>
<text x="198.5" y="307.1" font-size="10" fill="#777" text-anchor="end">150</text>
<text x="198.5" y="286.6" font-size="10" fill="#777" text-anchor="end">200</text>
<text x="198.5" y="266.1" font-size="10" fill="#777" text-anchor="end">250</text>
<text x="250.8" y="389.5" font-size="15" fill="#666" text-anchor="middle" textLength="17" lengthAdjust="spacingAndGlyphs">pD</text>
<text transform="translate(179.3,312.5) rotate(-90)" font-size="14.5" fill="#666" text-anchor="middle" textLength="114" lengthAdjust="spacingAndGlyphs">Semi-Major Axis (Å)</text>
<line x1="200.5" x2="301" y1="358.4" y2="358.4" stroke="#5aa8e0" stroke-width="1" stroke-dasharray="4 3"/>
<circle cx="224.8" cy="276.5" r="1.85" fill="#dc3b24" stroke="#6a2014" stroke-width="0.6"/>
<circle cx="227.1" cy="278.8" r="1.85" fill="#dc3b24" stroke="#6a2014" stroke-width="0.6"/>
<circle cx="229.4" cy="279.4" r="1.85" fill="#dc3b24" stroke="#6a2014" stroke-width="0.6"/>
<circle cx="230.9" cy="276.9" r="1.85" fill="#dc3b24" stroke="#6a2014" stroke-width="0.6"/>
<circle cx="232.9" cy="283.7" r="1.85" fill="#dc3b24" stroke="#6a2014" stroke-width="0.6"/>
<circle cx="232.1" cy="294.4" r="1.85" fill="#dc3b24" stroke="#6a2014" stroke-width="0.6"/>
<circle cx="235.2" cy="334.8" r="1.85" fill="#dc3b24" stroke="#6a2014" stroke-width="0.6"/>
<circle cx="234.5" cy="338.4" r="1.85" fill="#dc3b24" stroke="#6a2014" stroke-width="0.6"/>
<circle cx="236.1" cy="338.4" r="1.85" fill="#dc3b24" stroke="#6a2014" stroke-width="0.6"/>
<circle cx="237.1" cy="345.7" r="1.85" fill="#dc3b24" stroke="#6a2014" stroke-width="0.6"/>
<circle cx="238.4" cy="347.5" r="1.85" fill="#dc3b24" stroke="#6a2014" stroke-width="0.6"/>
<circle cx="240.1" cy="346.1" r="1.85" fill="#dc3b24" stroke="#6a2014" stroke-width="0.6"/>
<circle cx="241.5" cy="348.4" r="1.85" fill="#dc3b24" stroke="#6a2014" stroke-width="0.6"/>
<circle cx="242.7" cy="351.3" r="1.85" fill="#dc3b24" stroke="#6a2014" stroke-width="0.6"/>
<circle cx="243.8" cy="353.0" r="1.85" fill="#dc3b24" stroke="#6a2014" stroke-width="0.6"/>
<circle cx="245.0" cy="353.8" r="1.85" fill="#dc3b24" stroke="#6a2014" stroke-width="0.6"/>
<circle cx="246.2" cy="352.6" r="1.85" fill="#dc3b24" stroke="#6a2014" stroke-width="0.6"/>
<circle cx="248.5" cy="352.3" r="1.85" fill="#dc3b24" stroke="#6a2014" stroke-width="0.6"/>
<circle cx="250.3" cy="353.8" r="1.85" fill="#dc3b24" stroke="#6a2014" stroke-width="0.6"/>
<circle cx="252.4" cy="354.4" r="1.85" fill="#dc3b24" stroke="#6a2014" stroke-width="0.6"/>
<circle cx="255.7" cy="354.7" r="1.85" fill="#dc3b24" stroke="#6a2014" stroke-width="0.6"/>
<circle cx="271.6" cy="354.5" r="1.85" fill="#dc3b24" stroke="#6a2014" stroke-width="0.6"/>
<circle cx="283.1" cy="354.8" r="1.85" fill="#dc3b24" stroke="#6a2014" stroke-width="0.6"/>
<circle cx="285.2" cy="354.5" r="1.85" fill="#dc3b24" stroke="#6a2014" stroke-width="0.6"/>
<circle cx="286.6" cy="354.3" r="1.85" fill="#dc3b24" stroke="#6a2014" stroke-width="0.6"/>
<circle cx="288.1" cy="354.3" r="1.85" fill="#dc3b24" stroke="#6a2014" stroke-width="0.6"/>
<circle cx="289.2" cy="354.5" r="1.85" fill="#dc3b24" stroke="#6a2014" stroke-width="0.6"/>
<rect x="348.5" y="262" width="108.5" height="102" fill="none" stroke="#999" stroke-width="1"/>
<path d="M348.5,364v-2.5M348.5,262v2.5M364.0,364v-2.5M364.0,262v2.5M379.5,364v-2.5M379.5,262v2.5M395.0,364v-2.5M395.0,262v2.5M410.5,364v-2.5M410.5,262v2.5M426.0,364v-2.5M426.0,262v2.5M441.5,364v-2.5M441.5,262v2.5M457.0,364v-2.5M457.0,262v2.5M348.5,364.0h2.5M457,364.0h-2.5M348.5,343.6h2.5M457,343.6h-2.5M348.5,323.2h2.5M457,323.2h-2.5M348.5,302.8h2.5M457,302.8h-2.5M348.5,282.4h2.5M457,282.4h-2.5M348.5,262.0h2.5M457,262.0h-2.5" stroke="#999" stroke-width="1"/>
<text x="348.5" y="373" font-size="10" fill="#777" text-anchor="middle">0</text>
<text x="364.0" y="373" font-size="10" fill="#777" text-anchor="middle">2</text>
<text x="379.5" y="373" font-size="10" fill="#777" text-anchor="middle">4</text>
<text x="395.0" y="373" font-size="10" fill="#777" text-anchor="middle">6</text>
<text x="410.5" y="373" font-size="10" fill="#777" text-anchor="middle">8</text>
<text x="426.0" y="373" font-size="10" fill="#777" text-anchor="middle">10</text>
<text x="441.5" y="373" font-size="10" fill="#777" text-anchor="middle">12</text>
<text x="457.0" y="373" font-size="10" fill="#777" text-anchor="middle">14</text>
<text x="346.5" y="367.6" font-size="10" fill="#777" text-anchor="end">0.0</text>
<text x="346.5" y="347.2" font-size="10" fill="#777" text-anchor="end">0.2</text>
<text x="346.5" y="326.8" font-size="10" fill="#777" text-anchor="end">0.4</text>
<text x="346.5" y="306.4" font-size="10" fill="#777" text-anchor="end">0.6</text>
<text x="346.5" y="286.0" font-size="10" fill="#777" text-anchor="end">0.8</text>
<text x="346.5" y="265.6" font-size="10" fill="#777" text-anchor="end">1.0</text>
<text x="402.8" y="388" font-size="15" fill="#666" text-anchor="middle" textLength="17" lengthAdjust="spacingAndGlyphs">pD</text>
<text transform="translate(329.3,312.2) rotate(-90)" font-size="14.5" fill="#666" text-anchor="middle" textLength="135" lengthAdjust="spacingAndGlyphs">Water Fraction in Shell</text>
<path d="M375.0,351.4V310.6M373.8,351.4h2.4M373.8,310.6h2.4M377.5,338.9V318.5M376.3,338.9h2.4M376.3,318.5h2.4M379.8,347.9V305.0M378.6,347.9h2.4M378.6,305.0h2.4M381.1,341.6V321.2M379.9,341.6h2.4M379.9,321.2h2.4M383.8,345.0V312.4M382.6,345.0h2.4M382.6,312.4h2.4M382.5,326.7V302.2M381.3,326.7h2.4M381.3,302.2h2.4M385.2,315.3V294.9M384.0,315.3h2.4M384.0,294.9h2.4M385.8,307.0V290.7M384.6,307.0h2.4M384.6,290.7h2.4M387.4,302.1V291.9M386.2,302.1h2.4M386.2,291.9h2.4M389.3,299.8V289.6M388.1,299.8h2.4M388.1,289.6h2.4M393.3,299.5V287.3M392.1,299.5h2.4M392.1,287.3h2.4M391.1,314.4V294.0M389.9,314.4h2.4M389.9,294.0h2.4M392.4,321.8V297.3M391.2,321.8h2.4M391.2,297.3h2.4M392.9,348.1V288.9M391.7,348.1h2.4M391.7,288.9h2.4M395.1,309.2V284.7M393.9,309.2h2.4M393.9,284.7h2.4M396.9,316.9V284.2M395.7,316.9h2.4M395.7,284.2h2.4M394.2,318.2V293.7M393.0,318.2h2.4M393.0,293.7h2.4M397.7,322.5V287.8M396.5,322.5h2.4M396.5,287.8h2.4M398.3,318.7V286.1M397.1,318.7h2.4M397.1,286.1h2.4M400.1,315.3V278.6M398.9,315.3h2.4M398.9,278.6h2.4M401.3,314.1V283.5M400.1,314.1h2.4M400.1,283.5h2.4M403.7,311.8V281.2M402.5,311.8h2.4M402.5,281.2h2.4M407.2,309.0V288.6M406.0,309.0h2.4M406.0,288.6h2.4M425.0,307.7V287.3M423.8,307.7h2.4M423.8,287.3h2.4M437.0,311.3V288.8M435.8,311.3h2.4M435.8,288.8h2.4M439.9,305.2V284.8M438.8,305.2h2.4M438.8,284.8h2.4M442.0,302.9V284.5M440.8,302.9h2.4M440.8,284.5h2.4M442.5,307.7V287.3M441.3,307.7h2.4M441.3,287.3h2.4M443.7,310.4V292.1M442.5,310.4h2.4M442.5,292.1h2.4" stroke="#f08a78" stroke-width="1" fill="none"/>
<circle cx="375.0" cy="331.0" r="1.85" fill="#dc3b24" stroke="#6a2014" stroke-width="0.6"/>
<circle cx="377.5" cy="328.7" r="1.85" fill="#dc3b24" stroke="#6a2014" stroke-width="0.6"/>
<circle cx="379.8" cy="326.5" r="1.85" fill="#dc3b24" stroke="#6a2014" stroke-width="0.6"/>
<circle cx="381.1" cy="331.4" r="1.85" fill="#dc3b24" stroke="#6a2014" stroke-width="0.6"/>
<circle cx="383.8" cy="328.7" r="1.85" fill="#dc3b24" stroke="#6a2014" stroke-width="0.6"/>
<circle cx="382.5" cy="314.4" r="1.85" fill="#dc3b24" stroke="#6a2014" stroke-width="0.6"/>
<circle cx="385.2" cy="305.1" r="1.85" fill="#dc3b24" stroke="#6a2014" stroke-width="0.6"/>
<circle cx="385.8" cy="298.8" r="1.85" fill="#dc3b24" stroke="#6a2014" stroke-width="0.6"/>
<circle cx="387.4" cy="297.0" r="1.85" fill="#dc3b24" stroke="#6a2014" stroke-width="0.6"/>
<circle cx="389.3" cy="294.7" r="1.85" fill="#dc3b24" stroke="#6a2014" stroke-width="0.6"/>
<circle cx="393.3" cy="293.4" r="1.85" fill="#dc3b24" stroke="#6a2014" stroke-width="0.6"/>
<circle cx="391.1" cy="304.2" r="1.85" fill="#dc3b24" stroke="#6a2014" stroke-width="0.6"/>
<circle cx="392.4" cy="309.5" r="1.85" fill="#dc3b24" stroke="#6a2014" stroke-width="0.6"/>
<circle cx="392.9" cy="318.5" r="1.85" fill="#dc3b24" stroke="#6a2014" stroke-width="0.6"/>
<circle cx="395.1" cy="297.0" r="1.85" fill="#dc3b24" stroke="#6a2014" stroke-width="0.6"/>
<circle cx="396.9" cy="300.6" r="1.85" fill="#dc3b24" stroke="#6a2014" stroke-width="0.6"/>
<circle cx="394.2" cy="306.0" r="1.85" fill="#dc3b24" stroke="#6a2014" stroke-width="0.6"/>
<circle cx="397.7" cy="305.1" r="1.85" fill="#dc3b24" stroke="#6a2014" stroke-width="0.6"/>
<circle cx="398.3" cy="302.4" r="1.85" fill="#dc3b24" stroke="#6a2014" stroke-width="0.6"/>
<circle cx="400.1" cy="297.0" r="1.85" fill="#dc3b24" stroke="#6a2014" stroke-width="0.6"/>
<circle cx="401.3" cy="298.8" r="1.85" fill="#dc3b24" stroke="#6a2014" stroke-width="0.6"/>
<circle cx="403.7" cy="296.5" r="1.85" fill="#dc3b24" stroke="#6a2014" stroke-width="0.6"/>
<circle cx="407.2" cy="298.8" r="1.85" fill="#dc3b24" stroke="#6a2014" stroke-width="0.6"/>
<circle cx="425.0" cy="297.5" r="1.85" fill="#dc3b24" stroke="#6a2014" stroke-width="0.6"/>
<circle cx="437.0" cy="300.0" r="1.85" fill="#dc3b24" stroke="#6a2014" stroke-width="0.6"/>
<circle cx="439.9" cy="295.0" r="1.85" fill="#dc3b24" stroke="#6a2014" stroke-width="0.6"/>
<circle cx="442.0" cy="293.7" r="1.85" fill="#dc3b24" stroke="#6a2014" stroke-width="0.6"/>
<circle cx="442.5" cy="297.5" r="1.85" fill="#dc3b24" stroke="#6a2014" stroke-width="0.6"/>
<circle cx="443.7" cy="301.3" r="1.85" fill="#dc3b24" stroke="#6a2014" stroke-width="0.6"/>
<text x="550.5" y="13.6" font-size="18" fill="#707070" text-anchor="middle" textLength="62" lengthAdjust="spacingAndGlyphs">Low pD</text>
<path d="M451,49.5 C451,40 465,37 505,36.8 C540,36.5 548,33 550,23.5 C552,33 560,36.5 595,36.8 C632,37 648,40 649,50" fill="none" stroke="#e05a40" stroke-width="1.6"/>
<defs>
<radialGradient id="bl" cx="0.4" cy="0.4" r="0.7"><stop offset="0" stop-color="#4d78d8"/><stop offset="0.8" stop-color="#3b62c4"/><stop offset="1" stop-color="#2f55b0"/></radialGradient>
<linearGradient id="ar" x1="0" y1="0" x2="0" y2="1"><stop offset="0" stop-color="#e04a2c"/><stop offset="0.3" stop-color="#f6a24a"/><stop offset="0.5" stop-color="#f2dd6e"/><stop offset="0.68" stop-color="#d5ee8a"/><stop offset="1" stop-color="#4fa256"/></linearGradient>
</defs>
<defs><pattern id="vs" width="2" height="4" patternUnits="userSpaceOnUse"><rect width="2" height="4" fill="#3d63c4"/><rect x="0.6" width="0.8" height="4" fill="#d84a3a" opacity="0.75"/></pattern><clipPath id="bs"><circle cx="509.5" cy="103" r="55.5"/></clipPath><pattern id="dots" width="2.6" height="2.6" patternUnits="userSpaceOnUse"><rect width="2.6" height="2.6" fill="#3a5fc0"/><rect x="0.7" y="0.7" width="1.2" height="1.2" fill="#7f9ee8"/></pattern></defs>
<circle cx="509.5" cy="103" r="55.5" fill="url(#bl)"/>
<circle cx="509.5" cy="103" r="55.5" fill="url(#dots)" opacity="0.5"/>
<g clip-path="url(#bs)"><path d="M440,118 C470,128 550,128 580,118 L580,165 L440,165 Z" fill="url(#vs)" opacity="0.45"/></g>
<path d="M551.5,103.0L564.5,103.0M551.5,104.2L564.5,104.6M551.4,105.4L564.4,106.1M551.3,106.6L564.3,107.7M551.2,107.8L564.1,109.3M551.1,109.0L563.9,110.8M550.9,110.2L563.7,112.4M550.7,111.3L563.4,113.9M550.4,112.5L563.1,115.5M550.1,113.7L562.7,117.0M549.8,114.8L562.3,118.5M549.4,116.0L561.8,120.0M549.1,117.1L561.3,121.5M548.6,118.2L560.8,123.0M548.2,119.3L560.2,124.4M547.7,120.4L559.5,125.8M547.2,121.5L558.9,127.3M546.6,122.6L558.1,128.7M546.1,123.7L557.4,130.0M545.5,124.7L556.6,131.4M544.8,125.7L555.8,132.7M544.2,126.7L554.9,134.0M543.5,127.7L554.0,135.3M542.8,128.6L553.1,136.6M542.0,129.6L552.1,137.8M541.2,130.5L551.1,139.0M540.4,131.4L550.0,140.2M539.6,132.3L548.9,141.3M538.8,133.1L547.8,142.4M537.9,133.9L546.7,143.5M537.0,134.7L545.5,144.6M536.1,135.5L544.3,145.6M535.1,136.3L543.1,146.6M534.2,137.0L541.8,147.5M533.2,137.7L540.5,148.4M532.2,138.3L539.2,149.3M531.2,139.0L537.9,150.1M530.2,139.6L536.5,150.9M529.1,140.1L535.2,151.6M528.0,140.7L533.8,152.4M526.9,141.2L532.3,153.0M525.8,141.7L530.9,153.7M524.7,142.1L529.5,154.3M523.6,142.6L528.0,154.8M522.5,142.9L526.5,155.3M521.3,143.3L525.0,155.8M520.2,143.6L523.5,156.2M519.0,143.9L522.0,156.6M517.8,144.2L520.4,156.9M516.7,144.4L518.9,157.2M515.5,144.6L517.3,157.4M514.3,144.7L515.8,157.6M513.1,144.8L514.2,157.8M511.9,144.9L512.6,157.9M510.7,145.0L511.1,158.0M509.5,145.0L509.5,158.0M508.3,145.0L507.9,158.0M507.1,144.9L506.4,157.9M505.9,144.8L504.8,157.8M504.7,144.7L503.2,157.6M503.5,144.6L501.7,157.4M502.3,144.4L500.1,157.2M501.2,144.2L498.6,156.9M500.0,143.9L497.0,156.6M498.8,143.6L495.5,156.2M497.7,143.3L494.0,155.8M496.5,142.9L492.5,155.3M495.4,142.6L491.0,154.8M494.3,142.1L489.5,154.3M493.2,141.7L488.1,153.7M492.1,141.2L486.7,153.0M491.0,140.7L485.2,152.4M489.9,140.1L483.8,151.6M488.8,139.6L482.5,150.9M487.8,139.0L481.1,150.1M486.8,138.3L479.8,149.3M485.8,137.7L478.5,148.4M484.8,137.0L477.2,147.5M483.9,136.3L475.9,146.6M482.9,135.5L474.7,145.6M482.0,134.7L473.5,144.6M481.1,133.9L472.3,143.5M480.2,133.1L471.2,142.4M479.4,132.3L470.1,141.3M478.6,131.4L469.0,140.2M477.8,130.5L467.9,139.0M477.0,129.6L466.9,137.8M476.2,128.6L465.9,136.6M475.5,127.7L465.0,135.3M474.8,126.7L464.1,134.0M474.2,125.7L463.2,132.7M473.5,124.7L462.4,131.4M472.9,123.7L461.6,130.0M472.4,122.6L460.9,128.7M471.8,121.5L460.1,127.3M471.3,120.4L459.5,125.8M470.8,119.3L458.8,124.4M470.4,118.2L458.2,123.0M469.9,117.1L457.7,121.5M469.6,116.0L457.2,120.0M469.2,114.8L456.7,118.5M468.9,113.7L456.3,117.0M468.6,112.5L455.9,115.5M468.3,111.3L455.6,113.9M468.1,110.2L455.3,112.4M467.9,109.0L455.1,110.8M467.8,107.8L454.9,109.3M467.7,106.6L454.7,107.7M467.6,105.4L454.6,106.1M467.5,104.2L454.5,104.6M467.5,103.0L454.5,103.0M467.5,101.8L454.5,101.4M467.6,100.6L454.6,99.9M467.7,99.4L454.7,98.3M467.8,98.2L454.9,96.7M467.9,97.0L455.1,95.2M468.1,95.8L455.3,93.6M468.3,94.7L455.6,92.1M468.6,93.5L455.9,90.5M468.9,92.3L456.3,89.0M469.2,91.2L456.7,87.5M469.6,90.0L457.2,86.0M469.9,88.9L457.7,84.5M470.4,87.8L458.2,83.0M470.8,86.7L458.8,81.6M471.3,85.6L459.5,80.2M471.8,84.5L460.1,78.7M472.4,83.4L460.9,77.3M472.9,82.3L461.6,76.0M473.5,81.3L462.4,74.6M474.2,80.3L463.2,73.3M474.8,79.3L464.1,72.0M475.5,78.3L465.0,70.7M476.2,77.4L465.9,69.4M477.0,76.4L466.9,68.2M477.8,75.5L467.9,67.0M478.6,74.6L469.0,65.8M479.4,73.7L470.1,64.7M480.2,72.9L471.2,63.6M481.1,72.1L472.3,62.5M482.0,71.3L473.5,61.4M482.9,70.5L474.7,60.4M483.9,69.7L475.9,59.4M484.8,69.0L477.2,58.5M485.8,68.3L478.5,57.6M486.8,67.7L479.8,56.7M487.8,67.0L481.1,55.9M488.8,66.4L482.5,55.1M489.9,65.9L483.8,54.4M491.0,65.3L485.2,53.6M492.1,64.8L486.7,53.0M493.2,64.3L488.1,52.3M494.3,63.9L489.5,51.7M495.4,63.4L491.0,51.2M496.5,63.1L492.5,50.7M497.7,62.7L494.0,50.2M498.8,62.4L495.5,49.8M500.0,62.1L497.0,49.4M501.2,61.8L498.6,49.1M502.3,61.6L500.1,48.8M503.5,61.4L501.7,48.6M504.7,61.3L503.2,48.4M505.9,61.2L504.8,48.2M507.1,61.1L506.4,48.1M508.3,61.0L507.9,48.0M509.5,61.0L509.5,48.0M510.7,61.0L511.1,48.0M511.9,61.1L512.6,48.1M513.1,61.2L514.2,48.2M514.3,61.3L515.8,48.4M515.5,61.4L517.3,48.6M516.7,61.6L518.9,48.8M517.8,61.8L520.4,49.1M519.0,62.1L522.0,49.4M520.2,62.4L523.5,49.8M521.3,62.7L525.0,50.2M522.5,63.1L526.5,50.7M523.6,63.4L528.0,51.2M524.7,63.9L529.5,51.7M525.8,64.3L530.9,52.3M526.9,64.8L532.3,53.0M528.0,65.3L533.8,53.6M529.1,65.9L535.2,54.4M530.2,66.4L536.5,55.1M531.2,67.0L537.9,55.9M532.2,67.7L539.2,56.7M533.2,68.3L540.5,57.6M534.2,69.0L541.8,58.5M535.1,69.7L543.1,59.4M536.1,70.5L544.3,60.4M537.0,71.3L545.5,61.4M537.9,72.1L546.7,62.5M538.8,72.9L547.8,63.6M539.6,73.7L548.9,64.7M540.4,74.6L550.0,65.8M541.2,75.5L551.1,67.0M542.0,76.4L552.1,68.2M542.8,77.4L553.1,69.4M543.5,78.3L554.0,70.7M544.2,79.3L554.9,72.0M544.8,80.3L555.8,73.3M545.5,81.3L556.6,74.6M546.1,82.3L557.4,76.0M546.6,83.4L558.1,77.3M547.2,84.5L558.9,78.7M547.7,85.6L559.5,80.2M548.2,86.7L560.2,81.6M548.6,87.8L560.8,83.0M549.1,88.9L561.3,84.5M549.4,90.0L561.8,86.0M549.8,91.2L562.3,87.5M550.1,92.3L562.7,89.0M550.4,93.5L563.1,90.5M550.7,94.7L563.4,92.1M550.9,95.8L563.7,93.6M551.1,97.0L563.9,95.2M551.2,98.2L564.1,96.7M551.3,99.4L564.3,98.3M551.4,100.6L564.4,99.9M551.5,101.8L564.5,101.4" stroke="#d8503c" stroke-width="0.5" opacity="0.22"/>
<path d="M508.3,52.5 C520,53 540,72 547,92 C550,102 551,112 551,120 C540,127 522,129.5 508,129.5 C494,129.5 476,127 465,121 C465,112 466,102 469,92 C476,72 496,53 508.3,52.5 Z" fill="none" stroke="#b85070" stroke-width="6" opacity="0.3"/>
<path d="M508.3,52.5 C520,53 540,72 547,92 C550,102 551,112 551,120 C540,127 522,129.5 508,129.5 C494,129.5 476,127 465,121 C465,112 466,102 469,92 C476,72 496,53 508.3,52.5 Z" fill="#cfcfcf" stroke="#d8402e" stroke-width="2.2"/>
<defs><clipPath id="gb"><path d="M508.3,52.5 C520,53 540,72 547,92 C550,102 551,112 551,120 C540,127 522,129.5 508,129.5 C494,129.5 476,127 465,121 C465,112 466,102 469,92 C476,72 496,53 508.3,52.5 Z"/></clipPath></defs>
<g clip-path="url(#gb)"><path d="M508.5,100 L578.5,100.0M508.5,100 L578.3,104.9M508.5,100 L577.8,109.7M508.5,100 L577.0,114.6M508.5,100 L575.8,119.3M508.5,100 L574.3,123.9M508.5,100 L572.4,128.5M508.5,100 L570.3,132.9M508.5,100 L567.9,137.1M508.5,100 L565.1,141.1M508.5,100 L562.1,145.0M508.5,100 L558.9,148.6M508.5,100 L555.3,152.0M508.5,100 L551.6,155.2M508.5,100 L547.6,158.0M508.5,100 L543.5,160.6M508.5,100 L539.2,162.9M508.5,100 L534.7,164.9M508.5,100 L530.1,166.6M508.5,100 L525.4,167.9M508.5,100 L520.7,168.9M508.5,100 L515.8,169.6M508.5,100 L510.9,170.0M508.5,100 L506.1,170.0M508.5,100 L501.2,169.6M508.5,100 L496.3,168.9M508.5,100 L491.6,167.9M508.5,100 L486.9,166.6M508.5,100 L482.3,164.9M508.5,100 L477.8,162.9M508.5,100 L473.5,160.6M508.5,100 L469.4,158.0M508.5,100 L465.4,155.2M508.5,100 L461.7,152.0M508.5,100 L458.1,148.6M508.5,100 L454.9,145.0M508.5,100 L451.9,141.1M508.5,100 L449.1,137.1M508.5,100 L446.7,132.9M508.5,100 L444.6,128.5M508.5,100 L442.7,123.9M508.5,100 L441.2,119.3M508.5,100 L440.0,114.6M508.5,100 L439.2,109.7M508.5,100 L438.7,104.9M508.5,100 L438.5,100.0M508.5,100 L438.7,95.1M508.5,100 L439.2,90.3M508.5,100 L440.0,85.4M508.5,100 L441.2,80.7M508.5,100 L442.7,76.1M508.5,100 L444.6,71.5M508.5,100 L446.7,67.1M508.5,100 L449.1,62.9M508.5,100 L451.9,58.9M508.5,100 L454.9,55.0M508.5,100 L458.1,51.4M508.5,100 L461.7,48.0M508.5,100 L465.4,44.8M508.5,100 L469.4,42.0M508.5,100 L473.5,39.4M508.5,100 L477.8,37.1M508.5,100 L482.3,35.1M508.5,100 L486.9,33.4M508.5,100 L491.6,32.1M508.5,100 L496.3,31.1M508.5,100 L501.2,30.4M508.5,100 L506.1,30.0M508.5,100 L510.9,30.0M508.5,100 L515.8,30.4M508.5,100 L520.7,31.1M508.5,100 L525.4,32.1M508.5,100 L530.1,33.4M508.5,100 L534.7,35.1M508.5,100 L539.2,37.1M508.5,100 L543.5,39.4M508.5,100 L547.6,42.0M508.5,100 L551.6,44.8M508.5,100 L555.3,48.0M508.5,100 L558.9,51.4M508.5,100 L562.1,55.0M508.5,100 L565.1,58.9M508.5,100 L567.9,62.9M508.5,100 L570.3,67.1M508.5,100 L572.4,71.5M508.5,100 L574.3,76.1M508.5,100 L575.8,80.7M508.5,100 L577.0,85.4M508.5,100 L577.8,90.3M508.5,100 L578.3,95.1" stroke="#9a9a9a" stroke-width="0.6" opacity="0.45"/></g>
<path d="M508.3,52.5 C520,53 540,72 547,92 C550,102 551,112 551,120 C540,127 522,129.5 508,129.5 C494,129.5 476,127 465,121 C465,112 466,102 469,92 C476,72 496,53 508.3,52.5 Z" fill="none" stroke="#d8402e" stroke-width="2.4"/>
<path d="M509,70 C516,71 530,85 534,102 C535.5,108 536,112 536,116 C528,119.5 518,121 508.5,121 C499,121 490,119.5 482,117.5 C482,112 482.5,108 484,102 C488,85 502,71 509,70 Z" fill="#3e66c8" stroke="#d8402e" stroke-width="2.2"/>
<g transform="translate(605,106.3) rotate(16.5)"><ellipse cx="0" cy="0" rx="27" ry="39" fill="url(#bl)"/><ellipse cx="0" cy="0" rx="27" ry="39" fill="url(#dots)" opacity="0.5"/></g>
<g><line x1="611" y1="107.5" x2="617.2" y2="69.8" stroke="#e8e8e8" stroke-width="0.55" opacity="0.55"/><line x1="611" y1="107.5" x2="618.5" y2="70.3" stroke="#d8503c" stroke-width="0.55" opacity="0.55"/><line x1="611" y1="107.5" x2="619.7" y2="71.0" stroke="#e8e8e8" stroke-width="0.55" opacity="0.55"/><line x1="611" y1="107.5" x2="620.9" y2="71.7" stroke="#d8503c" stroke-width="0.55" opacity="0.55"/><line x1="611" y1="107.5" x2="622.0" y2="72.5" stroke="#e8e8e8" stroke-width="0.55" opacity="0.55"/><line x1="611" y1="107.5" x2="623.1" y2="73.4" stroke="#d8503c" stroke-width="0.55" opacity="0.55"/><line x1="611" y1="107.5" x2="624.2" y2="74.4" stroke="#e8e8e8" stroke-width="0.55" opacity="0.55"/><line x1="611" y1="107.5" x2="625.2" y2="75.5" stroke="#d8503c" stroke-width="0.55" opacity="0.55"/><line x1="611" y1="107.5" x2="626.2" y2="76.7" stroke="#e8e8e8" stroke-width="0.55" opacity="0.55"/><line x1="611" y1="107.5" x2="627.1" y2="77.9" stroke="#d8503c" stroke-width="0.55" opacity="0.55"/><line x1="611" y1="107.5" x2="627.9" y2="79.2" stroke="#e8e8e8" stroke-width="0.55" opacity="0.55"/><line x1="611" y1="107.5" x2="628.7" y2="80.6" stroke="#d8503c" stroke-width="0.55" opacity="0.55"/><line x1="611" y1="107.5" x2="629.4" y2="82.1" stroke="#e8e8e8" stroke-width="0.55" opacity="0.55"/><line x1="611" y1="107.5" x2="630.0" y2="83.6" stroke="#d8503c" stroke-width="0.55" opacity="0.55"/><line x1="611" y1="107.5" x2="630.6" y2="85.2" stroke="#e8e8e8" stroke-width="0.55" opacity="0.55"/><line x1="611" y1="107.5" x2="631.1" y2="86.9" stroke="#d8503c" stroke-width="0.55" opacity="0.55"/><line x1="611" y1="107.5" x2="631.5" y2="88.6" stroke="#e8e8e8" stroke-width="0.55" opacity="0.55"/><line x1="611" y1="107.5" x2="631.9" y2="90.3" stroke="#d8503c" stroke-width="0.55" opacity="0.55"/><line x1="611" y1="107.5" x2="632.2" y2="92.1" stroke="#e8e8e8" stroke-width="0.55" opacity="0.55"/><line x1="611" y1="107.5" x2="632.4" y2="93.9" stroke="#d8503c" stroke-width="0.55" opacity="0.55"/><line x1="611" y1="107.5" x2="632.6" y2="95.8" stroke="#e8e8e8" stroke-width="0.55" opacity="0.55"/><line x1="611" y1="107.5" x2="632.7" y2="97.7" stroke="#d8503c" stroke-width="0.55" opacity="0.55"/><line x1="611" y1="107.5" x2="632.7" y2="99.6" stroke="#e8e8e8" stroke-width="0.55" opacity="0.55"/><line x1="611" y1="107.5" x2="632.6" y2="101.5" stroke="#d8503c" stroke-width="0.55" opacity="0.55"/><line x1="611" y1="107.5" x2="632.4" y2="103.4" stroke="#e8e8e8" stroke-width="0.55" opacity="0.55"/><line x1="611" y1="107.5" x2="632.2" y2="105.4" stroke="#d8503c" stroke-width="0.55" opacity="0.55"/><line x1="611" y1="107.5" x2="631.9" y2="107.3" stroke="#e8e8e8" stroke-width="0.55" opacity="0.55"/><line x1="611" y1="107.5" x2="631.5" y2="109.3" stroke="#d8503c" stroke-width="0.55" opacity="0.55"/><line x1="611" y1="107.5" x2="631.1" y2="111.2" stroke="#e8e8e8" stroke-width="0.55" opacity="0.55"/><line x1="611" y1="107.5" x2="630.6" y2="113.2" stroke="#d8503c" stroke-width="0.55" opacity="0.55"/><line x1="611" y1="107.5" x2="630.0" y2="115.1" stroke="#e8e8e8" stroke-width="0.55" opacity="0.55"/><line x1="611" y1="107.5" x2="629.4" y2="117.0" stroke="#d8503c" stroke-width="0.55" opacity="0.55"/><line x1="611" y1="107.5" x2="628.7" y2="118.8" stroke="#e8e8e8" stroke-width="0.55" opacity="0.55"/><line x1="611" y1="107.5" x2="627.9" y2="120.6" stroke="#d8503c" stroke-width="0.55" opacity="0.55"/><line x1="611" y1="107.5" x2="627.1" y2="122.4" stroke="#e8e8e8" stroke-width="0.55" opacity="0.55"/><line x1="611" y1="107.5" x2="626.2" y2="124.2" stroke="#d8503c" stroke-width="0.55" opacity="0.55"/><line x1="611" y1="107.5" x2="625.2" y2="125.9" stroke="#e8e8e8" stroke-width="0.55" opacity="0.55"/><line x1="611" y1="107.5" x2="624.2" y2="127.5" stroke="#d8503c" stroke-width="0.55" opacity="0.55"/><line x1="611" y1="107.5" x2="623.2" y2="129.1" stroke="#e8e8e8" stroke-width="0.55" opacity="0.55"/><line x1="611" y1="107.5" x2="622.0" y2="130.6" stroke="#d8503c" stroke-width="0.55" opacity="0.55"/><line x1="611" y1="107.5" x2="620.9" y2="132.1" stroke="#e8e8e8" stroke-width="0.55" opacity="0.55"/><line x1="611" y1="107.5" x2="619.7" y2="133.5" stroke="#d8503c" stroke-width="0.55" opacity="0.55"/><line x1="611" y1="107.5" x2="618.5" y2="134.8" stroke="#e8e8e8" stroke-width="0.55" opacity="0.55"/><line x1="611" y1="107.5" x2="617.2" y2="136.0" stroke="#d8503c" stroke-width="0.55" opacity="0.55"/><line x1="611" y1="107.5" x2="615.9" y2="137.2" stroke="#e8e8e8" stroke-width="0.55" opacity="0.55"/><line x1="611" y1="107.5" x2="614.6" y2="138.3" stroke="#d8503c" stroke-width="0.55" opacity="0.55"/><line x1="611" y1="107.5" x2="613.2" y2="139.2" stroke="#e8e8e8" stroke-width="0.55" opacity="0.55"/><line x1="611" y1="107.5" x2="611.8" y2="140.1" stroke="#d8503c" stroke-width="0.55" opacity="0.55"/><line x1="611" y1="107.5" x2="610.4" y2="141.0" stroke="#e8e8e8" stroke-width="0.55" opacity="0.55"/><line x1="611" y1="107.5" x2="609.0" y2="141.7" stroke="#d8503c" stroke-width="0.55" opacity="0.55"/><line x1="611" y1="107.5" x2="607.6" y2="142.3" stroke="#e8e8e8" stroke-width="0.55" opacity="0.55"/><line x1="611" y1="107.5" x2="606.2" y2="142.8" stroke="#d8503c" stroke-width="0.55" opacity="0.55"/><line x1="611" y1="107.5" x2="604.7" y2="143.3" stroke="#e8e8e8" stroke-width="0.55" opacity="0.55"/><line x1="611" y1="107.5" x2="603.3" y2="143.6" stroke="#d8503c" stroke-width="0.55" opacity="0.55"/><line x1="611" y1="107.5" x2="601.9" y2="143.8" stroke="#e8e8e8" stroke-width="0.55" opacity="0.55"/><line x1="611" y1="107.5" x2="600.5" y2="143.9" stroke="#d8503c" stroke-width="0.55" opacity="0.55"/><line x1="611" y1="107.5" x2="599.0" y2="144.0" stroke="#e8e8e8" stroke-width="0.55" opacity="0.55"/><line x1="611" y1="107.5" x2="597.7" y2="143.9" stroke="#d8503c" stroke-width="0.55" opacity="0.55"/><line x1="611" y1="107.5" x2="596.3" y2="143.7" stroke="#e8e8e8" stroke-width="0.55" opacity="0.55"/><line x1="611" y1="107.5" x2="594.9" y2="143.4" stroke="#d8503c" stroke-width="0.55" opacity="0.55"/><line x1="611" y1="107.5" x2="593.6" y2="143.1" stroke="#e8e8e8" stroke-width="0.55" opacity="0.55"/><line x1="611" y1="107.5" x2="592.3" y2="142.6" stroke="#d8503c" stroke-width="0.55" opacity="0.55"/><line x1="611" y1="107.5" x2="591.1" y2="142.0" stroke="#e8e8e8" stroke-width="0.55" opacity="0.55"/><line x1="611" y1="107.5" x2="589.8" y2="141.4" stroke="#d8503c" stroke-width="0.55" opacity="0.55"/><line x1="611" y1="107.5" x2="588.7" y2="140.6" stroke="#e8e8e8" stroke-width="0.55" opacity="0.55"/><line x1="611" y1="107.5" x2="587.5" y2="139.7" stroke="#d8503c" stroke-width="0.55" opacity="0.55"/><line x1="611" y1="107.5" x2="586.4" y2="138.8" stroke="#e8e8e8" stroke-width="0.55" opacity="0.55"/><line x1="611" y1="107.5" x2="585.4" y2="137.8" stroke="#d8503c" stroke-width="0.55" opacity="0.55"/><line x1="611" y1="107.5" x2="584.4" y2="136.7" stroke="#e8e8e8" stroke-width="0.55" opacity="0.55"/><line x1="611" y1="107.5" x2="583.5" y2="135.5" stroke="#d8503c" stroke-width="0.55" opacity="0.55"/><line x1="611" y1="107.5" x2="582.6" y2="134.2" stroke="#e8e8e8" stroke-width="0.55" opacity="0.55"/><line x1="611" y1="107.5" x2="581.8" y2="132.8" stroke="#d8503c" stroke-width="0.55" opacity="0.55"/><line x1="611" y1="107.5" x2="581.1" y2="131.4" stroke="#e8e8e8" stroke-width="0.55" opacity="0.55"/><line x1="611" y1="107.5" x2="580.4" y2="129.9" stroke="#d8503c" stroke-width="0.55" opacity="0.55"/><line x1="611" y1="107.5" x2="579.8" y2="128.4" stroke="#e8e8e8" stroke-width="0.55" opacity="0.55"/><line x1="611" y1="107.5" x2="579.2" y2="126.8" stroke="#d8503c" stroke-width="0.55" opacity="0.55"/><line x1="611" y1="107.5" x2="578.7" y2="125.1" stroke="#e8e8e8" stroke-width="0.55" opacity="0.55"/><line x1="611" y1="107.5" x2="578.3" y2="123.4" stroke="#d8503c" stroke-width="0.55" opacity="0.55"/><line x1="611" y1="107.5" x2="578.0" y2="121.6" stroke="#e8e8e8" stroke-width="0.55" opacity="0.55"/><line x1="611" y1="107.5" x2="577.7" y2="119.8" stroke="#d8503c" stroke-width="0.55" opacity="0.55"/><line x1="611" y1="107.5" x2="577.5" y2="118.0" stroke="#e8e8e8" stroke-width="0.55" opacity="0.55"/><line x1="611" y1="107.5" x2="577.4" y2="116.1" stroke="#d8503c" stroke-width="0.55" opacity="0.55"/><line x1="611" y1="107.5" x2="577.3" y2="114.2" stroke="#e8e8e8" stroke-width="0.55" opacity="0.55"/><line x1="611" y1="107.5" x2="577.4" y2="112.3" stroke="#d8503c" stroke-width="0.55" opacity="0.55"/><line x1="611" y1="107.5" x2="577.5" y2="110.4" stroke="#e8e8e8" stroke-width="0.55" opacity="0.55"/><line x1="611" y1="107.5" x2="577.6" y2="108.4" stroke="#d8503c" stroke-width="0.55" opacity="0.55"/><line x1="611" y1="107.5" x2="577.9" y2="106.5" stroke="#e8e8e8" stroke-width="0.55" opacity="0.55"/><line x1="611" y1="107.5" x2="578.2" y2="104.5" stroke="#d8503c" stroke-width="0.55" opacity="0.55"/><line x1="611" y1="107.5" x2="578.6" y2="102.6" stroke="#e8e8e8" stroke-width="0.55" opacity="0.55"/><line x1="611" y1="107.5" x2="579.1" y2="100.6" stroke="#d8503c" stroke-width="0.55" opacity="0.55"/></g>
<path d="M610,71.7 L611,107.5 L580.5,121.6 C579,100 590,80 610,71.7 Z" fill="#d4d4d4"/><path d="M580.5,121.6 C579,100 590,80 610,71.7" fill="none" stroke="#d8402e" stroke-width="1.6"/>
<g transform="translate(499.5,205.4) rotate(25)"><ellipse cx="0" cy="0" rx="28" ry="36" fill="url(#bl)"/><ellipse cx="0" cy="0" rx="28" ry="36" fill="url(#dots)" opacity="0.5"/></g>
<g transform="translate(499.6,286.2) rotate(15)"><ellipse cx="0" cy="0" rx="25.5" ry="27.8" fill="url(#bl)"/><ellipse cx="0" cy="0" rx="25.5" ry="27.8" fill="url(#dots)" opacity="0.5"/></g>
<g transform="translate(498.6,361.2) rotate(15)"><ellipse cx="0" cy="0" rx="25" ry="28" fill="url(#bl)"/><ellipse cx="0" cy="0" rx="25" ry="28" fill="url(#dots)" opacity="0.5"/></g>
<path d="M501,337.8 C509,340 516,350 516,358 L516,370 C505,371.5 492,370 482,367.5 C483,355 490,344 501,337.8 Z" fill="#d43a2c"/>
<path d="M500.4,344.8 C507,347 512,352 512,356 L512,363.5 C504,365.5 494,366 487,365 C489,356 493,348 500.4,344.8 Z" fill="#c6c6c6"/>
<path d="M500.4,344.8 C507,347 512,352 512,356 L512,363.5 L502,357 Z" fill="#a9a9a9"/>
<rect x="558" y="171.2" width="6.3" height="170" fill="url(#ar)"/>
<path d="M544.5,339.2 Q553,340 560.8,344.2 Q569,340 577.5,339.2 Q566,358 560.8,381.8 Q555,358 544.5,339.2 Z" fill="#238a3e"/>
<text x="614.4" y="253.8" font-size="17" fill="#666" text-anchor="middle" textLength="88.5" lengthAdjust="spacingAndGlyphs">Increasing</text>
<text x="614.3" y="275" font-size="17" fill="#666" text-anchor="middle" textLength="22.5" lengthAdjust="spacingAndGlyphs">pD</text>
</svg></body></html>
